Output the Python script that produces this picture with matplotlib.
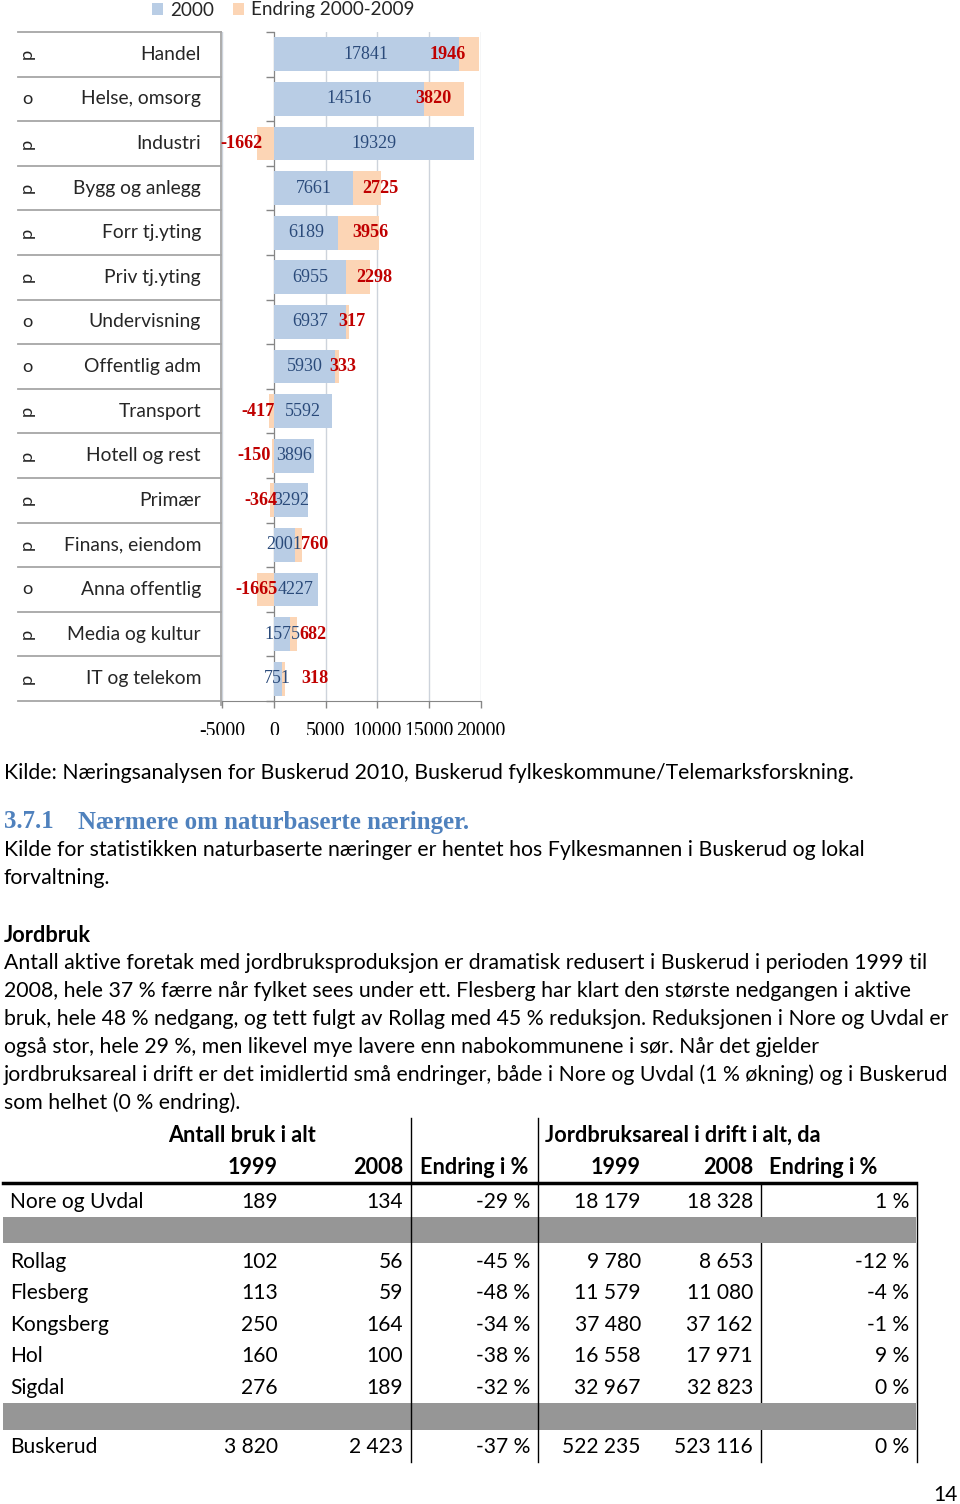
import matplotlib
matplotlib.use('Agg')
import matplotlib.pyplot as plt
from matplotlib import font_manager as fm
from matplotlib.transforms import Bbox
from matplotlib.patches import Rectangle
import numpy as np

# ---------------- data ----------------
categories = ['Handel', 'Helse, omsorg', 'Industri', 'Bygg og anlegg', 'Forr tj.yting',
              'Priv tj.yting', 'Undervisning', 'Offentlig adm', 'Transport', 'Hotell og rest',
              'Primær', 'Finans, eiendom', 'Anna offentlig', 'Media og kultur', 'IT og telekom']
symbols = ['p', 'o', 'p', 'p', 'p', 'p', 'o', 'o', 'p', 'p', 'p', 'p', 'o', 'p', 'p']
values_2000 = [17841, 14516, 19329, 7661, 6189, 6955, 6937, 5930, 5592, 3896, 3292, 2001, 4227, 1575, 751]
change_2000_2009 = [1946, 3820, -1662, 2725, 3956, 2298, 317, 333, -417, -150, -364, 760, -1665, 682, 318]
legend_labels = ['2000', 'Endring 2000-2009']
x_ticks = [-5000, 0, 5000, 10000, 15000, 20000]

source_text = 'Kilde: Næringsanalysen for Buskerud 2010, Buskerud fylkeskommune/Telemarksforskning.'
heading_num = '3.7.1'
heading_text = 'Nærmere om naturbaserte næringer.'
intro_lines = ['Kilde for statistikken naturbaserte næringer er hentet hos Fylkesmannen i Buskerud og lokal',
               'forvaltning.']
section_title = 'Jordbruk'
body_lines = [
    'Antall aktive foretak med jordbruksproduksjon er dramatisk redusert i Buskerud i perioden 1999 til',
    '2008, hele 37 % færre når fylket sees under ett. Flesberg har klart den største nedgangen i aktive',
    'bruk, hele 48 % nedgang, og tett fulgt av Rollag med 45 % reduksjon. Reduksjonen i Nore og Uvdal er',
    'også stor, hele 29 %, men likevel mye lavere enn nabokommunene i sør. Når det gjelder',
    'jordbruksareal i drift er det imidlertid små endringer, både i Nore og Uvdal (1 % økning) og i Buskerud',
    'som helhet (0 % endring).',
]

table_group_headers = ['Antall bruk i alt', 'Jordbruksareal i drift i alt, da']
table_col_headers = ['1999', '2008', 'Endring i %', '1999', '2008', 'Endring i %']
table_rows = ['Nore og Uvdal', 'Rollag', 'Flesberg', 'Kongsberg', 'Hol', 'Sigdal', 'Buskerud']
bruk_1999 = [189, 102, 113, 250, 160, 276, 3820]
bruk_2008 = [134, 56, 59, 164, 100, 189, 2423]
bruk_pct = [-29, -45, -48, -34, -38, -32, -37]
areal_1999 = [18179, 9780, 11579, 37480, 16558, 32967, 522235]
areal_2008 = [18328, 8653, 11080, 37162, 17971, 32823, 523116]
areal_pct = [1, -12, -4, -1, 9, 0, 0]
page_number = '14'

# ---------------- layout (pixels) ----------------
W, H = 960, 1504
change_label_dx = [-31, -30, -15, -1, -9, 5, 3, 4, -11, -18, -9, 12, 0, 16, 30]
table_row_y = [1202, 1262, 1293, 1325, 1356, 1388, 1447]
table_band_y = [(1217, 1243), (1403, 1430)]
table_col_right = [278, 403, 530, 641, 753, 909]
col_header_x = [(278, 'right'), (403, 'right'), (420, 'left'), (641, 'right'), (753, 'right'), (769, 'left')]

BLUE = '#B9CDE5'
ORANGE = '#FCD5B5'
LBL_BLUE = '#2A4A7A'
LBL_RED = '#C00000'
HEAD_BLUE = '#4F81BD'
GRID = '#CDD3DB'
AXC = '#868686'
PANEL = '#A6A6A6'

fig = plt.figure(figsize=(W / 100, H / 100), dpi=100)
renderer = fig.canvas.get_renderer()


def avail(names, default='DejaVu Sans'):
    for n in names:
        try:
            fm.findfont(fm.FontProperties(family=n), fallback_to_default=False)
            return n
        except Exception:
            pass
    return default


SANS = avail(['Lato', 'Open Sans', 'Liberation Sans'])
SERIF = avail(['Liberation Serif', 'DejaVu Serif'], 'DejaVu Serif')
HSERIF = avail(['Liberation Serif', 'DejaVu Serif'], 'DejaVu Serif')


def fit(text, target, family, weight='normal', ref=10.0):
    t = fig.text(0, 0, text, fontsize=ref, family=family, weight=weight)
    w = t.get_window_extent(renderer).width
    t.remove()
    return ref * target / w


# overlay axes in pixel coordinates
ov = fig.add_axes([0, 0, 1, 1], zorder=0)
ov.set_xlim(0, W)
ov.set_ylim(H, 0)
ov.axis('off')

# ---------------- bar chart ----------------
n = len(categories)
ypos = np.arange(n)
v0 = np.array(values_2000)
ch = np.array(change_2000_2009)
ch_left = np.where(ch >= 0, v0, 0)

ax = fig.add_axes([222 / W, 1 - 701 / H, (481 - 222) / W, (701 - 32) / H], zorder=2)
ax.patch.set_alpha(0)
b1 = ax.barh(ypos, v0, height=0.76, color=BLUE, label=legend_labels[0], zorder=3)
b2 = ax.barh(ypos, ch, left=ch_left, height=0.76, color=ORANGE, label=legend_labels[1], zorder=3)
ax.set_xlim(x_ticks[0], x_ticks[-1])
ax.set_ylim(n - 0.5, -0.5)
ax.set_xticks(x_ticks)
ax.set_yticks(np.arange(n + 1) - 0.5)
ax.tick_params(axis='x', length=5, width=1, color=AXC, labelbottom=False)
ax.tick_params(axis='y', length=6, width=1, color=AXC, labelleft=False, direction='out')
ax.grid(axis='x', color=GRID, lw=1, zorder=0)
ax.set_axisbelow(True)
for s in ['top', 'right']:
    ax.spines[s].set_visible(False)
ax.spines['left'].set_position(('data', 0))
ax.spines['left'].set_color(AXC)
ax.spines['bottom'].set_color(AXC)

s_blue = fit('17841', 45, SERIF)
s_red = fit('1946', 36, SERIF, 'bold')
for i in range(n):
    ax.text(v0[i] / 2, i, str(v0[i]), ha='center', va='center', color=LBL_BLUE,
            family=SERIF, fontsize=s_blue, zorder=5)
    ax.annotate(str(ch[i]), xy=(ch_left[i] + ch[i], i), xytext=(change_label_dx[i], 0),
                textcoords='offset pixels', ha='center', va='center', color=LBL_RED,
                family=SERIF, weight='bold', fontsize=s_red, zorder=6)

# axis tick labels (clipped at bottom like the reference crop)
s_tick = fit('20000', 49, SERIF)
clip = Bbox.from_extents(0, H - 735, W, H)
for v in x_ticks:
    xp = ax.transData.transform((v, 0))[0]
    t = ov.text(xp, 731, str(v), ha='center', va='center', family=SERIF, fontsize=s_tick, color='black')
    t.set_clip_box(clip)
    t.set_clip_on(True)

# left label panel
s_cat = fit('Helse, omsorg', 120, SANS)
def ypix(v):
    return H - ax.transData.transform((0, v))[1]

for i in range(n + 1):
    yb = ypix(i - 0.5)
    ov.plot([18, 221], [yb, yb], color=PANEL, lw=1.3)
ov.plot([221, 221], [ypix(-0.5), ypix(n - 0.5) + 4], color=PANEL, lw=1.3)
for i, name in enumerate(categories):
    yc = ypix(i)
    ov.text(201, yc, name, ha='right', va='center', family=SANS, fontsize=s_cat, color='#262626')
    ov.text(27, yc, symbols[i], ha='center', va='center', family=SANS, fontsize=s_cat * 0.95,
            color='#262626', rotation=90 if symbols[i] == 'p' else 0)

# legend
s_leg = fit('Endring 2000-2009', 163, SANS)
fig.legend(handles=[b1, b2], labels=legend_labels, loc='center', bbox_to_anchor=(283 / W, 1 - 10 / H),
           ncol=2, frameon=False, handlelength=0.6, handleheight=0.6, handletextpad=0.35,
           columnspacing=1.0, prop=dict(family=SANS, size=s_leg), labelcolor='#262626',
           borderpad=0, borderaxespad=0)

# ---------------- text ----------------
s_body = fit(body_lines[0], 926, SANS)
ov.text(4, 773, source_text, ha='left', va='center', family=SANS, fontsize=s_body)
s_head = fit(heading_text, 393, HSERIF, 'bold')
ov.text(4, 822, heading_num, ha='left', va='center', family=HSERIF, weight='bold', fontsize=s_head, color=HEAD_BLUE)
ov.text(78, 822, heading_text, ha='left', va='center', family=HSERIF, weight='bold', fontsize=s_head, color=HEAD_BLUE)
for k, line in enumerate(intro_lines):
    ov.text(4, 850 + 28 * k, line, ha='left', va='center', family=SANS, fontsize=s_body)
s_bold = fit(table_group_headers[1], 276, SANS, 'bold')
ov.text(4, 935, section_title, ha='left', va='center', family=SANS, weight='bold', fontsize=s_bold)
for k, line in enumerate(body_lines):
    ov.text(4, 963 + 28 * k, line, ha='left', va='center', family=SANS, fontsize=s_body)

# ---------------- table ----------------
s_tab = fit('Nore og Uvdal', 134, SANS)
for xv in [761, 917]:
    ov.plot([xv, xv], [1185, 1462], color='black', lw=1, zorder=1)
for (y0, y1) in table_band_y:
    ov.add_patch(Rectangle((3, y0), 913, y1 - y0, facecolor='#969696', edgecolor='none', zorder=2))
for xv in [411, 538]:
    ov.plot([xv, xv], [1118, 1462], color='black', lw=1, zorder=3)
ov.plot([3, 916], [1183, 1183], color='black', lw=2.5, zorder=3)

ov.text(168, 1135, table_group_headers[0], ha='left', va='center', family=SANS, weight='bold', fontsize=s_bold)
ov.text(545, 1135, table_group_headers[1], ha='left', va='center', family=SANS, weight='bold', fontsize=s_bold)
for (xh, ha), lab in zip(col_header_x, table_col_headers):
    ov.text(xh, 1168, lab, ha=ha, va='center', family=SANS, weight='bold', fontsize=s_bold)


def fmt_num(v):
    return f'{v:,}'.replace(',', ' ')


def fmt_pct(v):
    return f'{v} %'

for r, name in enumerate(table_rows):
    yv = table_row_y[r]
    ov.text(10, yv, name, ha='left', va='center', family=SANS, fontsize=s_tab)
    cells = [fmt_num(bruk_1999[r]), fmt_num(bruk_2008[r]), fmt_pct(bruk_pct[r]),
             fmt_num(areal_1999[r]), fmt_num(areal_2008[r]), fmt_pct(areal_pct[r])]
    for xr, c in zip(table_col_right, cells):
        ov.text(xr, yv, c, ha='right', va='center', family=SANS, fontsize=s_tab)

ov.text(945, 1495, page_number, ha='center', va='center', family=SANS, fontsize=s_tab)

fig.savefig('out.png', dpi=100)
